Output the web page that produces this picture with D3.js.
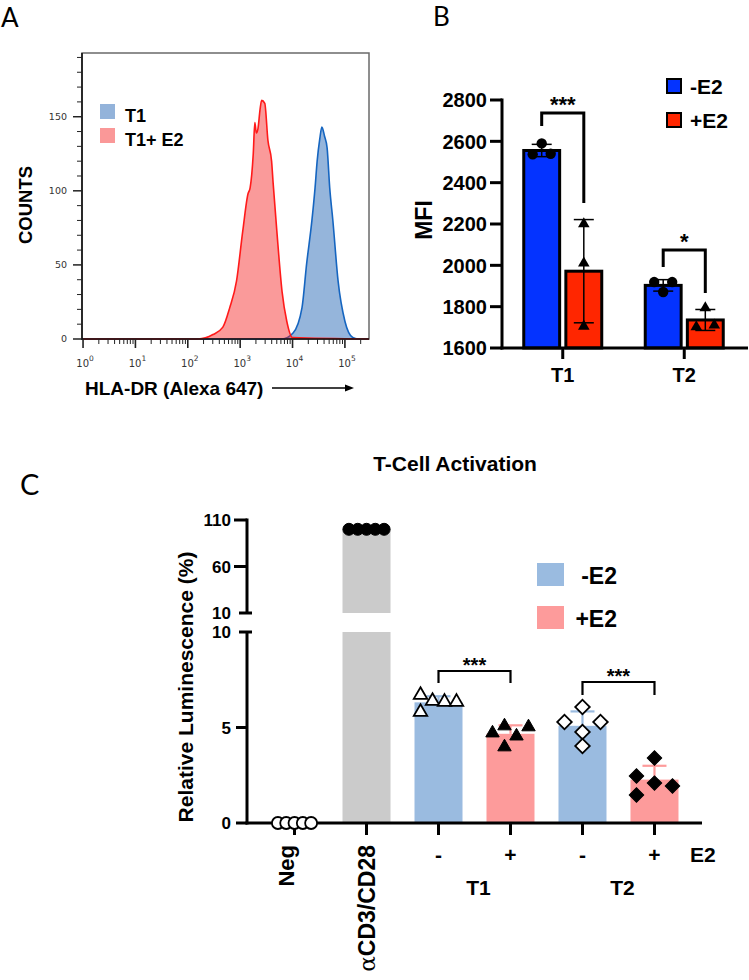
<!DOCTYPE html>
<html>
<head>
<meta charset="utf-8">
<script src="https://cdn.jsdelivr.net/npm/d3@7/dist/d3.min.js"></script>
<style>
body{margin:0;background:#fff;}
svg{display:block;}
.b{font-family:"Liberation Sans",Arial,sans-serif;font-weight:bold;fill:#000;}
.pl{font-family:Lato,"Open Sans",sans-serif;font-weight:normal;fill:#000;}
</style>
</head>
<body>
<svg id="fig" width="749" height="980"></svg>
<script>
// ---------- Panel A: HLA-DR histograms (log10 intensity vs counts) ----------
const histT1Log   = [0, 3.8, 4.01, 4.18, 4.27, 4.37, 4.43, 4.47, 4.52, 4.56, 4.61, 4.66, 4.71, 4.77, 4.87, 5.0, 5.15, 5.25, 5.46];
const histT1Count = [0, 0, 4, 21, 51, 80, 102, 120, 135, 143, 137, 129, 102, 80, 39, 12, 1, 0, 0];
const histE2Log   = [0, 2.2, 2.48, 2.67, 2.8, 2.93, 3.05, 3.15, 3.19, 3.25, 3.28, 3.31, 3.34, 3.38, 3.41, 3.47, 3.53, 3.6, 3.63, 3.7, 3.8, 3.89, 4.0, 5.46];
const histE2Count = [0, 0, 3, 8, 21, 39, 73, 98, 102, 125, 146, 139, 142, 155, 161, 159, 134, 120, 105, 73, 32, 12, 1, 0];
const histLegend  = ["T1", "T1+ E2"];
const countTicks  = [0, 50, 100, 150];
const decades     = [0, 1, 2, 3, 4, 5];

// ---------- Panel B: MFI ----------
const mfiCategories = ["T1", "T2"];
const mfiSeries     = ["-E2", "+E2"];
const mfiT1Minus = [2537, 2590, 2540];
const mfiT1Plus  = [2200, 2010, 1705];
const mfiT2Minus = [1919, 1871, 1919];
const mfiT2Plus  = [1702, 1794, 1711];
const mfiTicks   = [1600, 1800, 2000, 2200, 2400, 2600, 2800];
const mfiSig     = ["***", "*"];

// ---------- Panel C: T-Cell Activation ----------
const lumCategories = ["Neg", "αCD3/CD28", "T1-", "T1+", "T2-", "T2+"];
const lumNeg     = [0, 0, 0, 0, 0];
const lumCD3     = [100, 100, 100, 100, 100];
const lumT1Minus = [6.70, 5.81, 6.39, 6.34, 6.34];
const lumT1Plus  = [4.71, 5.08, 3.98, 4.55, 5.03];
const lumT2Minus = [5.29, 6.07, 4.76, 4.03, 5.29];
const lumT2Plus  = [3.40, 2.46, 2.09, 1.94, 1.47];
const lumTicksLow  = [0, 5, 10];
const lumTicksHigh = [10, 60, 110];
const lumSig = ["***", "***"];
const lumLegend = ["-E2", "+E2"];
// dot-plot column slots (scatter spread of the replicate points)
const slotNeg = [-2, -1, 0, 1, 2];
const slotCD3 = [-2, -1, 0, 1, 2];
const slotT1M = [-1.5, -1.5, -0.5, 0.5, 1.5];
const slotT1P = [-1.5, -0.5, -0.5, 0.5, 1.5];
const slotT2M = [-1, 0, 0, 0, 1];
const slotT2P = [0, -1, 0, 1, -1];

const svg = d3.select("#fig");

// panel letters
svg.append("text").attr("class","pl").attr("x",1).attr("y",27).attr("font-size",26).text("A");
svg.append("text").attr("class","pl").attr("x",433).attr("y",26).attr("font-size",26).text("B");
svg.append("text").attr("class","pl").attr("x",20).attr("y",495).attr("font-size",29).text("C");

// ================= PANEL A =================
(function(){
  const L=82, T=53, R=369, B=339;
  const x = d3.scaleLog().domain([Math.pow(10,-0.02), Math.pow(10,5.46)]).range([L,R]);
  const y = d3.scaleLinear().domain([0,193]).range([B,T]);
  const g = svg.append("g");
  g.append("rect").attr("x",L).attr("y",T).attr("width",R-L).attr("height",B-T)
    .attr("fill","none").attr("stroke","#6a6a6a").attr("stroke-width",1.5);

  const mk = (lg, ct) => lg.map((v,i)=>({x:Math.pow(10,v), c:ct[i]}));
  const area = d3.area().x(d=>x(d.x)).y0(y(0)).y1(d=>y(d.c)).curve(d3.curveMonotoneX);
  const line = d3.line().x(d=>x(d.x)).y(d=>y(d.c)).curve(d3.curveMonotoneX);
  const t1 = mk(histT1Log, histT1Count), e2 = mk(histE2Log, histE2Count);
  g.append("path").attr("d",area(t1)).attr("fill","rgba(34,100,180,0.48)");
  g.append("path").attr("d",line(t1)).attr("fill","none").attr("stroke","#1565c0").attr("stroke-width",1.6);
  g.append("path").attr("d",area(e2)).attr("fill","rgba(245,30,30,0.45)");
  g.append("path").attr("d",line(e2)).attr("fill","none").attr("stroke","#ff1a1a").attr("stroke-width",1.6);

  // axes
  g.append("line").attr("x1",L).attr("x2",L).attr("y1",T).attr("y2",B+1).attr("stroke","#111").attr("stroke-width",1.6);
  g.append("line").attr("x1",L).attr("x2",R).attr("y1",B).attr("y2",B).attr("stroke","#111").attr("stroke-width",1.6);
  d3.range(0,191,10).forEach(v=>{
    const maj = countTicks.includes(v);
    g.append("line").attr("x1",maj?73:77).attr("x2",L).attr("y1",y(v)).attr("y2",y(v))
      .attr("stroke","#222").attr("stroke-width",maj?1.5:1);
  });
  countTicks.forEach(v=>{
    g.append("text").attr("x",67).attr("y",y(v)).attr("dy","0.35em").attr("text-anchor","end")
      .attr("font-family","DejaVu Sans").attr("font-size",9.5).attr("fill","#333").text(v);
  });
  decades.forEach(k=>{
    for(let m=1;m<=9;m++){
      const v=m*Math.pow(10,k);
      if(v>x.domain()[1]) break;
      g.append("line").attr("x1",x(v)).attr("x2",x(v)).attr("y1",B).attr("y2",m===1?348:344)
        .attr("stroke","#222").attr("stroke-width",m===1?1.6:1);
    }
    const t = g.append("text").attr("x",x(Math.pow(10,k))+2).attr("y",367).attr("text-anchor","middle")
      .attr("font-family","DejaVu Sans").attr("font-size",10).attr("fill","#333");
    t.append("tspan").text("10");
    t.append("tspan").attr("dy",-6).attr("font-size",7.5).text(k);
  });
  g.append("text").attr("class","b").attr("x",85).attr("y",395).attr("font-size",19).text("HLA-DR (Alexa 647)");
  g.append("line").attr("x1",272).attr("x2",347).attr("y1",388).attr("y2",388).attr("stroke","#000").attr("stroke-width",1.6);
  g.append("path").attr("d","M345,384.5 L354,388 L345,391.5 Z").attr("fill","#000");
  g.append("text").attr("class","b").attr("transform","translate(32,205) rotate(-90)")
    .attr("text-anchor","middle").attr("font-size",18.5).text("COUNTS");
  // legend
  const legCol = ["#93b3da", "#fa9898"];
  histLegend.forEach((s,i)=>{
    g.append("rect").attr("x",100).attr("y",104+i*24).attr("width",15).attr("height",15).attr("fill",legCol[i]);
    g.append("text").attr("class","b").attr("x",125).attr("y",122+i*24).attr("font-size",18).text(s);
  });
})();

// ================= PANEL B =================
(function(){
  const g = svg.append("g");
  const y = d3.scaleLinear().domain([1600,2800]).range([348,100]);
  const x = d3.scalePoint().domain(mfiCategories).range([502,745]).padding(0.5);
  const sub = d3.scaleBand().domain(mfiSeries).range([-40,40]).paddingInner(0.1);
  const col = {"-E2":"#0433ff","+E2":"#ff2600"};
  const groups = [
    {c:"T1", s:"-E2", v:mfiT1Minus, sym:"circle", slot:[-1,0,1]},
    {c:"T1", s:"+E2", v:mfiT1Plus,  sym:"tri",    slot:[0,0,0]},
    {c:"T2", s:"-E2", v:mfiT2Minus, sym:"circle", slot:[-1,0,1]},
    {c:"T2", s:"+E2", v:mfiT2Plus,  sym:"tri",    slot:[-1,0,1]}
  ];
  const bw = sub.bandwidth();
  groups.forEach(d=>{
    d.mean=d3.mean(d.v); d.sd=d3.deviation(d.v);
    d.cx = x(d.c)+sub(d.s)+bw/2;
  });
  groups.forEach(d=>{
    g.append("rect").attr("x",d.cx-bw/2+1).attr("y",y(d.mean)).attr("width",bw-2).attr("height",y(1600)-y(d.mean))
      .attr("fill",col[d.s]).attr("stroke","#000").attr("stroke-width",3);
  });
  groups.forEach(d=>{
    const y1=y(d.mean+d.sd), y2=y(d.mean-d.sd);
    g.append("line").attr("x1",d.cx).attr("x2",d.cx).attr("y1",y1).attr("y2",y2).attr("stroke","#000").attr("stroke-width",1.5);
    [y1,y2].forEach(yy=>g.append("line").attr("x1",d.cx-10).attr("x2",d.cx+10).attr("y1",yy).attr("y2",yy).attr("stroke","#000").attr("stroke-width",1.5));
    d.v.forEach((v,i)=>{
      const px=d.cx+d.slot[i]*9, py=y(v);
      if(d.sym==="circle") g.append("circle").attr("cx",px).attr("cy",py).attr("r",5.2).attr("fill","#000");
      else g.append("path").attr("d",d3.symbol().type(d3.symbolTriangle).size(58)()).attr("transform",`translate(${px},${py})`).attr("fill","#000");
    });
  });
  // axes
  g.append("line").attr("x1",502).attr("x2",502).attr("y1",98.5).attr("y2",349.5).attr("stroke","#000").attr("stroke-width",3);
  g.append("line").attr("x1",500.5).attr("x2",748).attr("y1",348).attr("y2",348).attr("stroke","#000").attr("stroke-width",3);
  mfiTicks.forEach(v=>{
    g.append("line").attr("x1",490).attr("x2",502).attr("y1",y(v)).attr("y2",y(v)).attr("stroke","#000").attr("stroke-width",3);
    g.append("text").attr("class","b").attr("x",487).attr("y",y(v)).attr("dy","0.36em").attr("text-anchor","end").attr("font-size",20).text(v);
  });
  mfiCategories.forEach(c=>{
    g.append("line").attr("x1",x(c)).attr("x2",x(c)).attr("y1",348).attr("y2",359).attr("stroke","#000").attr("stroke-width",3);
    g.append("text").attr("class","b").attr("x",x(c)).attr("y",382).attr("text-anchor","middle").attr("font-size",20).text(c);
  });
  g.append("text").attr("class","b").attr("transform","translate(432,220) rotate(-90)").attr("text-anchor","middle").attr("font-size",23).text("MFI");
  // significance brackets
  const br = [
    {c:"T1", top:113, l:126, r:203, s:mfiSig[0]},
    {c:"T2", top:250, l:267, r:293, s:mfiSig[1]}
  ];
  br.forEach(b=>{
    const xl=x(b.c)+sub("-E2")+bw/2, xr=x(b.c)+sub("+E2")+bw/2;
    g.append("path").attr("d",`M${xl},${b.l} V${b.top} H${xr} V${b.r}`).attr("fill","none").attr("stroke","#000").attr("stroke-width",3);
    g.append("text").attr("class","b").attr("x",(xl+xr)/2).attr("y",b.top-1).attr("text-anchor","middle").attr("font-size",22).text(b.s);
  });
  // legend
  mfiSeries.forEach((s,i)=>{
    g.append("rect").attr("x",667).attr("y",79+i*34).attr("width",14).attr("height",14).attr("fill",col[s]).attr("stroke","#000").attr("stroke-width",2);
    g.append("text").attr("class","b").attr("x",690).attr("y",94+i*34).attr("font-size",21).text(s);
  });
})();

// ================= PANEL C =================
(function(){
  const g = svg.append("g");
  const yLow = d3.scaleLinear().domain([0,10]).range([823,632]);
  const yHigh = d3.scaleLinear().domain([10,110]).range([613,520]);
  const yv = v => v<=10 ? yLow(v) : yHigh(v);
  const x = d3.scalePoint().domain(lumCategories).range([247,702]).padding(0.66);
  const bw = 48;
  const colBlue="#9abbe0", colPink="#fd9b9b", colGray="#cbcbcb";
  const groups = [
    {c:"Neg",       v:lumNeg,     fill:null,     sym:"circle", open:true,  slot:slotNeg, sp:8.3},
    {c:"αCD3/CD28", v:lumCD3,     fill:colGray,  sym:"circle", open:false, slot:slotCD3, sp:8.8},
    {c:"T1-",       v:lumT1Minus, fill:colBlue,  sym:"tri",    open:true,  slot:slotT1M, sp:12},
    {c:"T1+",       v:lumT1Plus,  fill:colPink,  sym:"tri",    open:false, slot:slotT1P, sp:12},
    {c:"T2-",       v:lumT2Minus, fill:colBlue,  sym:"dia",    open:true,  slot:slotT2M, sp:18},
    {c:"T2+",       v:lumT2Plus,  fill:colPink,  sym:"dia",    open:false, slot:slotT2P, sp:18}
  ];
  groups.forEach(d=>{ d.mean=d3.mean(d.v); d.sd=d3.deviation(d.v); d.cx=x(d.c); });
  // title
  g.append("text").attr("class","b").attr("x",455).attr("y",471).attr("text-anchor","middle").attr("font-size",21).text("T-Cell Activation");
  // bars
  groups.forEach(d=>{
    if(!d.fill || d.mean<=0) return;
    if(d.mean>10){
      g.append("rect").attr("x",d.cx-bw/2).attr("y",yLow(10)).attr("width",bw).attr("height",yLow(0)-yLow(10)).attr("fill",d.fill);
      g.append("rect").attr("x",d.cx-bw/2).attr("y",yHigh(d.mean)).attr("width",bw).attr("height",yHigh(10)-yHigh(d.mean)).attr("fill",d.fill);
    } else {
      g.append("rect").attr("x",d.cx-bw/2).attr("y",yLow(d.mean)).attr("width",bw).attr("height",yLow(0)-yLow(d.mean)).attr("fill",d.fill);
    }
  });
  // error bars (upper half, bar coloured)
  groups.forEach(d=>{
    if(!d.fill || !(d.sd>0)) return;
    const yt=yv(d.mean+d.sd), yb=yv(d.mean);
    g.append("line").attr("x1",d.cx).attr("x2",d.cx).attr("y1",yt).attr("y2",yb).attr("stroke",d.fill).attr("stroke-width",2.2);
    g.append("line").attr("x1",d.cx-12).attr("x2",d.cx+12).attr("y1",yt).attr("y2",yt).attr("stroke",d.fill).attr("stroke-width",2.2);
  });
  // axes
  g.append("line").attr("x1",247).attr("x2",247).attr("y1",632).attr("y2",824.5).attr("stroke","#000").attr("stroke-width",3);
  g.append("line").attr("x1",247).attr("x2",247).attr("y1",518.5).attr("y2",613).attr("stroke","#000").attr("stroke-width",3);
  g.append("line").attr("x1",245.5).attr("x2",702).attr("y1",823).attr("y2",823).attr("stroke","#000").attr("stroke-width",3);
  const tick = (yy, x1, x2) => g.append("line").attr("x1",x1).attr("x2",x2).attr("y1",yy).attr("y2",yy).attr("stroke","#000").attr("stroke-width",3);
  lumTicksLow.forEach(v=>{
    const yy=yLow(v);
    if(v===10) tick(yy,239,252); else tick(yy,236,247);
    g.append("text").attr("class","b").attr("x",231).attr("y",yy).attr("dy","0.36em").attr("text-anchor","end").attr("font-size",17).text(v);
  });
  lumTicksHigh.forEach(v=>{
    const yy=yHigh(v);
    if(v===10) tick(yy,239,252); else tick(yy,234,247);
    g.append("text").attr("class","b").attr("x",231).attr("y",yy).attr("dy","0.36em").attr("text-anchor","end").attr("font-size",17).text(v);
  });
  lumCategories.forEach(c=>{
    g.append("line").attr("x1",x(c)).attr("x2",x(c)).attr("y1",823).attr("y2",835).attr("stroke","#000").attr("stroke-width",3);
  });
  g.append("text").attr("class","b").attr("transform","translate(193,687) rotate(-90)").attr("text-anchor","middle").attr("font-size",21).text("Relative Luminescence (%)");
  // points
  const tri = d3.symbol().type(d3.symbolTriangle).size(78)();
  const dia = d3.symbol().type(d3.symbolSquare).size(105)();
  groups.forEach(d=>{
    d.v.forEach((v,i)=>{
      const px=d.cx+d.slot[i]*d.sp, py=yv(v);
      let el;
      if(d.sym==="circle") el=g.append("circle").attr("cx",px).attr("cy",py).attr("r",d.open?6:6);
      else el=g.append("path").attr("d",d.sym==="tri"?tri:dia).attr("transform",`translate(${px},${py})`+(d.sym==="dia"?" rotate(45)":""));
      el.attr("fill",d.open?"#fff":"#000").attr("stroke","#000").attr("stroke-width",d.open?1.8:1);
    });
  });
  // significance
  const br = [
    {a:"T1-", b:"T1+", top:671, leg:683, s:lumSig[0]},
    {a:"T2-", b:"T2+", top:682, leg:695, s:lumSig[1]}
  ];
  br.forEach(b=>{
    const xl=x(b.a), xr=x(b.b);
    g.append("path").attr("d",`M${xl},${b.leg} V${b.top} H${xr} V${b.leg}`).attr("fill","none").attr("stroke","#000").attr("stroke-width",2.2);
    g.append("text").attr("class","b").attr("x",(xl+xr)/2).attr("y",b.top+1).attr("text-anchor","middle").attr("font-size",20).text(b.s);
  });
  // x labels
  ["T1-","T1+","T2-","T2+"].forEach(c=>{
    g.append("text").attr("class","b").attr("x",x(c)).attr("y",862).attr("text-anchor","middle").attr("font-size",21).text(c.slice(-1));
  });
  g.append("text").attr("class","b").attr("x",690).attr("y",862).attr("font-size",21).text("E2");
  g.append("text").attr("class","b").attr("x",(x("T1-")+x("T1+"))/2+4).attr("y",895).attr("text-anchor","middle").attr("font-size",21).text("T1");
  g.append("text").attr("class","b").attr("x",(x("T2-")+x("T2+"))/2+4).attr("y",895).attr("text-anchor","middle").attr("font-size",21).text("T2");
  g.append("text").attr("class","b").attr("transform",`translate(${x("Neg")-1},845) rotate(-90)`).attr("text-anchor","end").attr("font-size",22).text("Neg");
  const cd = g.append("text").attr("class","b").attr("transform",`translate(${x("αCD3/CD28")+8},845) rotate(-90)`).attr("text-anchor","end").attr("font-size",23);
  cd.append("tspan").attr("font-family","DejaVu Serif").attr("font-weight","normal").text("α");
  cd.append("tspan").text("CD3/CD28");
  // legend
  const lc=[colBlue,colPink];
  lumLegend.forEach((s,i)=>{
    g.append("rect").attr("x",537).attr("y",563+i*43).attr("width",27).attr("height",23).attr("fill",lc[i]);
    g.append("text").attr("class","b").attr("x",617).attr("y",584+i*43).attr("text-anchor","end").attr("font-size",23).text(s);
  });
})();
</script>
</body>
</html>
